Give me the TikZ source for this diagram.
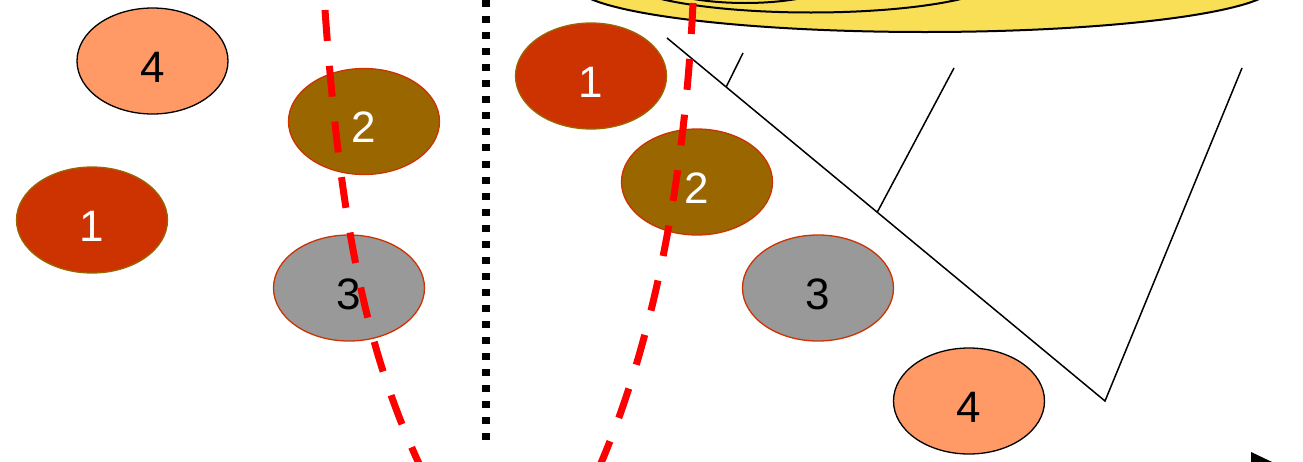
\documentclass[tikz,border=0pt]{standalone}
\usepackage{fontspec}
\setmainfont{Liberation Sans}
\usetikzlibrary{shapes.geometric,calc}
\definecolor{rust}{HTML}{CC3300}
\definecolor{ochre}{HTML}{996600}
\definecolor{stone}{HTML}{999999}
\definecolor{salmon}{HTML}{FF9966}
\definecolor{sun}{HTML}{F9DF55}
\definecolor{cutred}{HTML}{FF0000}
\begin{document}
\begin{tikzpicture}[x=1pt,y=-1pt,
  blob/.style={ellipse, minimum width=151pt, minimum height=106pt, inner sep=0pt,
    line width=1.3pt, text height=42pt, text depth=0pt,
    font=\fontsize{44}{44}\selectfont},
  blobone/.style={blob, fill=rust, draw=ochre, text=white},
  blobtwo/.style={blob, fill=ochre, draw=rust, text=white},
  blobthree/.style={blob, fill=stone, draw=rust, text=black},
  blobfour/.style={blob, fill=salmon, draw=black, text=black},
  cutline/.style={draw=cutred, line width=7pt, dash pattern=on 31pt off 25pt},
  divider/.style={draw=black, line width=7.5pt, dash pattern=on 7pt off 9.05pt},
  wedge/.style={draw=black, line width=1.5pt},
  ring/.style={draw=black, line width=2pt}]
\useasboundingbox (0,0) rectangle (1303,461);
\clip (0,0) rectangle (1303,461);

% yellow disc at the top, with its inner rings
\filldraw[ring, fill=sun] (925,-15) ellipse [x radius=350pt, y radius=47pt];
\draw[ring] (811,-22.5) ellipse [x radius=190pt, y radius=35pt];
\draw[ring] (745,-25) ellipse [x radius=100pt, y radius=28pt];

% dotted divider between the two panels
\coordinate (dtop) at (486,0);
\coordinate (dbot) at (486,440);
\draw[divider] (dtop) -- (dbot);

% left panel
\node[blobfour]  (l4) at (152.5,61) {4};
\node[blobtwo]   (l2) at (364,121.5) {2};
\node[blobone]   (l1) at (92,220) {1};
\node[blobthree] (l3) at (349,288) {3};

% right panel
\node[blobone]   (r1) at (591,76) {1};
\node[blobtwo]   (r2) at (697,182) {2};
\node[blobthree] (r3) at (818,288) {3};
\node[blobfour]  (r4) at (969,401) {4};

% bent line with two short ticks
\coordinate (d1) at (667,38);
\coordinate (d2) at (1105,401);
\coordinate (d3) at (1242,68);
\draw[wedge] (d1) -- (d2) -- (d3);
\coordinate (t1) at ($(d1)!0.135!(d2)$);
\coordinate (t1e) at (743,53);
\coordinate (t2) at ($(d1)!0.48!(d2)$);
\coordinate (t2e) at (954,68);
\draw[wedge] (t1) -- (t1e);
\draw[wedge] (t2) -- (t2e);

% red dashed curves
\coordinate (la) at (325,10);
\coordinate (lb) at (422,470);
\draw[cutline] (la) .. controls (340,220) and (365,350) .. (lb);
\coordinate (ra) at (693,3);
\coordinate (rb) at (598,470);
\draw[cutline] (ra) .. controls (685,175) and (655,340) .. (rb);

% arrow tip at the lower right edge
\fill[black] (1251,452) -- (1289,470) -- (1251,488) -- cycle;
\end{tikzpicture}
\end{document}
